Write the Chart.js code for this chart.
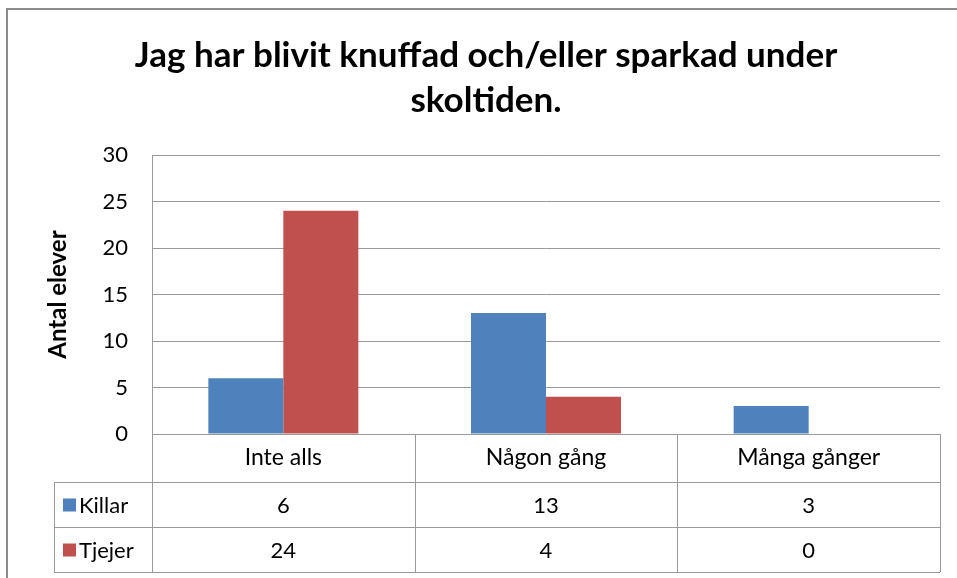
<!DOCTYPE html>
<html>
<head>
  <meta charset="utf-8">
  <title>Knuffad och/eller sparkad</title>
  <script src="https://cdn.jsdelivr.net/npm/chart.js"></script>
  <style>
    body { margin: 0; background: #fff; }
    canvas { display: block; }
  </style>
</head>
<body>
  <canvas id="chart" width="957" height="578"></canvas>

  <script>
    const categories = ["Inte alls", "Någon gång", "Många gånger"];
    const killar = [6, 13, 3];
    const tjejer = [24, 4, 0];
    const seriesNames = ["Killar", "Tjejer"];
    const yTicks = [0, 5, 10, 15, 20, 25, 30];

    const blue = "#4f81bd";
    const red = "#c0504d";
    const lineGray = "#9a9a9a";
    const FONT = "Lato, 'Open Sans', sans-serif";

    // data table under the plot, like Excel's "show data table"
    const dataTable = {
      id: "dataTable",
      afterDraw(chart) {
        const ctx = chart.ctx;
        const area = chart.chartArea;
        const x = chart.scales.x;
        const rows = [area.bottom, 482, 527, 572];
        const legendLeft = 54;
        const step = (area.right - area.left) / categories.length;

        ctx.save();
        // frame of the chart object
        ctx.strokeStyle = "#8c8c8c";
        ctx.lineWidth = 2;
        ctx.beginPath();
        ctx.moveTo(7, 578); ctx.lineTo(7, 9); ctx.lineTo(957, 9);
        ctx.stroke();

        ctx.strokeStyle = lineGray;
        ctx.lineWidth = 1;
        ctx.beginPath();
        for (let r = 1; r < rows.length; r++) {
          ctx.moveTo(legendLeft, rows[r] + 0.5);
          ctx.lineTo(area.right, rows[r] + 0.5);
        }
        ctx.moveTo(legendLeft + 0.5, rows[1]);
        ctx.lineTo(legendLeft + 0.5, rows[3]);
        for (let i = 0; i <= categories.length; i++) {
          const cx = Math.round(area.left + i * step) + 0.5;
          ctx.moveTo(cx, i === 0 ? area.bottom : rows[0]);
          ctx.lineTo(cx, rows[3]);
        }
        ctx.stroke();

        ctx.fillStyle = "#000";
        ctx.textAlign = "center";
        ctx.textBaseline = "middle";
        const values = [killar, tjejer];
        categories.forEach((c, i) => {
          const cx = x.getPixelForValue(i);
          ctx.font = "23px " + FONT;
          ctx.fillText(c, cx, (rows[0] + rows[1]) / 2);
          ctx.font = "22px " + FONT;
          values.forEach((arr, s) => {
            ctx.fillText(String(arr[i]), cx, (rows[s + 1] + rows[s + 2]) / 2 + 1);
          });
        });

        ctx.textAlign = "left";
        ctx.font = "22px " + FONT;
        [blue, red].forEach((col, s) => {
          const cy = (rows[s + 1] + rows[s + 2]) / 2;
          ctx.fillStyle = col;
          ctx.fillRect(63, cy - 6, 13, 13);
          ctx.fillStyle = "#000";
          ctx.fillText(seriesNames[s], 79, cy + 1);
        });
        ctx.restore();
      }
    };

    new Chart(document.getElementById("chart"), {
      type: "bar",
      data: {
        labels: categories,
        datasets: [
          { label: seriesNames[0], data: killar, backgroundColor: blue },
          { label: seriesNames[1], data: tjejer, backgroundColor: red }
        ]
      },
      options: {
        responsive: false,
        animation: false,
        categoryPercentage: 0.571,
        barPercentage: 1.0,
        layout: { padding: { left: 32, right: 17, top: 0, bottom: 144 } },
        plugins: {
          legend: { display: false },
          tooltip: { enabled: false },
          title: {
            display: true,
            text: ["Jag har blivit knuffad och/eller sparkad under", "skoltiden."],
            color: "#000",
            font: { family: FONT, size: 35, weight: "bold", lineHeight: 1.286 },
            padding: { top: 33, bottom: 32 }
          }
        },
        scales: {
          x: {
            display: false
          },
          y: {
            min: 0,
            max: 30,
            afterFit(scale) { scale.width = 120; },
            afterBuildTicks(scale) { scale.ticks = yTicks.map(v => ({ value: v })); },
            ticks: {
              color: "#000",
              padding: 24,
              font: { family: FONT, size: 22 }
            },
            grid: { color: lineGray, drawTicks: false },
            border: { display: true, color: lineGray },
            title: {
              display: true,
              text: "Antal elever",
              color: "#000",
              font: { family: FONT, size: 24, weight: "bold" },
              padding: { top: 12, bottom: 0 }
            }
          }
        }
      },
      plugins: [dataTable]
    });
  </script>
</body>
</html>
